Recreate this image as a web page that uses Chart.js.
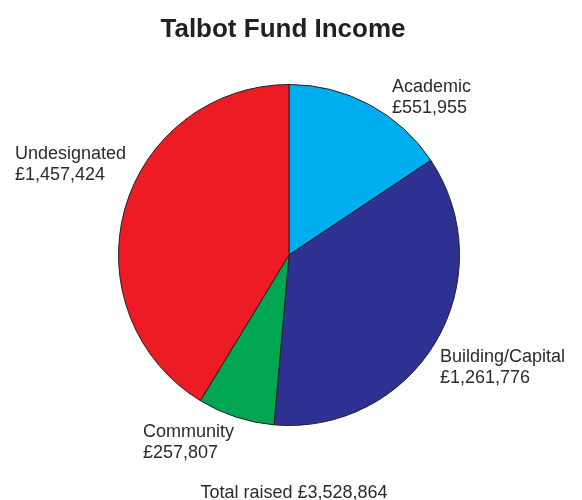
<!DOCTYPE html>
<html>
<head>
<meta charset="utf-8">
<script src="https://cdn.jsdelivr.net/npm/chart.js@4"></script>
<style>
  html, body { margin: 0; padding: 0; background: #fff; }
  #wrap { width: 582px; height: 500px; }
</style>
</head>
<body>
<div id="wrap"><canvas id="myChart"></canvas></div>
<script>
"use strict";

// 데이터
const categories = ['Academic', 'Building/Capital', 'Community', 'Undesignated'];
const incomeValues = [551955, 1261776, 257807, 1457424];
const totalRaised = 3528864; // as printed on the chart
const chartTitle = 'Talbot Fund Income';

const sliceColors = ['#00AEEF', '#2E3192', '#00A651', '#ED1C24'];

// label placement (left x, first baseline y) - layout only
const labelPlaces = [
  { x: 392, y: 92 },
  { x: 440, y: 362 },
  { x: 143, y: 437 },
  { x: 15, y: 159 }
];

let money = function (v) {
  return '£' + v.toLocaleString('en-GB');
};

// title, slice labels and footer
const textPlugin = {
  id: 'textPlugin',
  afterDraw(chart) {
    const ctx = chart.ctx;
    ctx.save();
    ctx.fillStyle = '#231f20';
    ctx.font = 'bold 26px "Liberation Sans", Arial, sans-serif';
    ctx.textAlign = 'center';
    ctx.textBaseline = 'alphabetic';
    ctx.fillText(chartTitle, 283, 37);

    ctx.fillStyle = '#2b2b2b';
    ctx.font = '18px "Liberation Sans", Arial, sans-serif';
    ctx.textAlign = 'left';
    categories.forEach((name, i) => {
      const p = labelPlaces[i];
      ctx.fillText(name, p.x, p.y);
      ctx.fillText(money(incomeValues[i]), p.x, p.y + 21);
    });

    ctx.textAlign = 'center';
    ctx.fillText('Total raised ' + money(totalRaised), 294, 498);
    ctx.restore();
  }
};

const data = {
  labels: categories,
  datasets: [{
    data: incomeValues,
    backgroundColor: sliceColors,
    borderColor: '#231f20',
    borderWidth: 1
  }]
};

const config = {
  type: 'pie',
  data,
  options: {
    responsive: true,
    maintainAspectRatio: false,
    animation: false,
    layout: {
      padding: { top: 84, bottom: 74, left: 118, right: 122 }
    },
    plugins: {
      legend: { display: false },
      tooltip: { enabled: false },
      title: { display: false }
    }
  },
  plugins: [textPlugin]
};

const myChart = new Chart(document.getElementById('myChart'), config);
</script>
</body>
</html>
